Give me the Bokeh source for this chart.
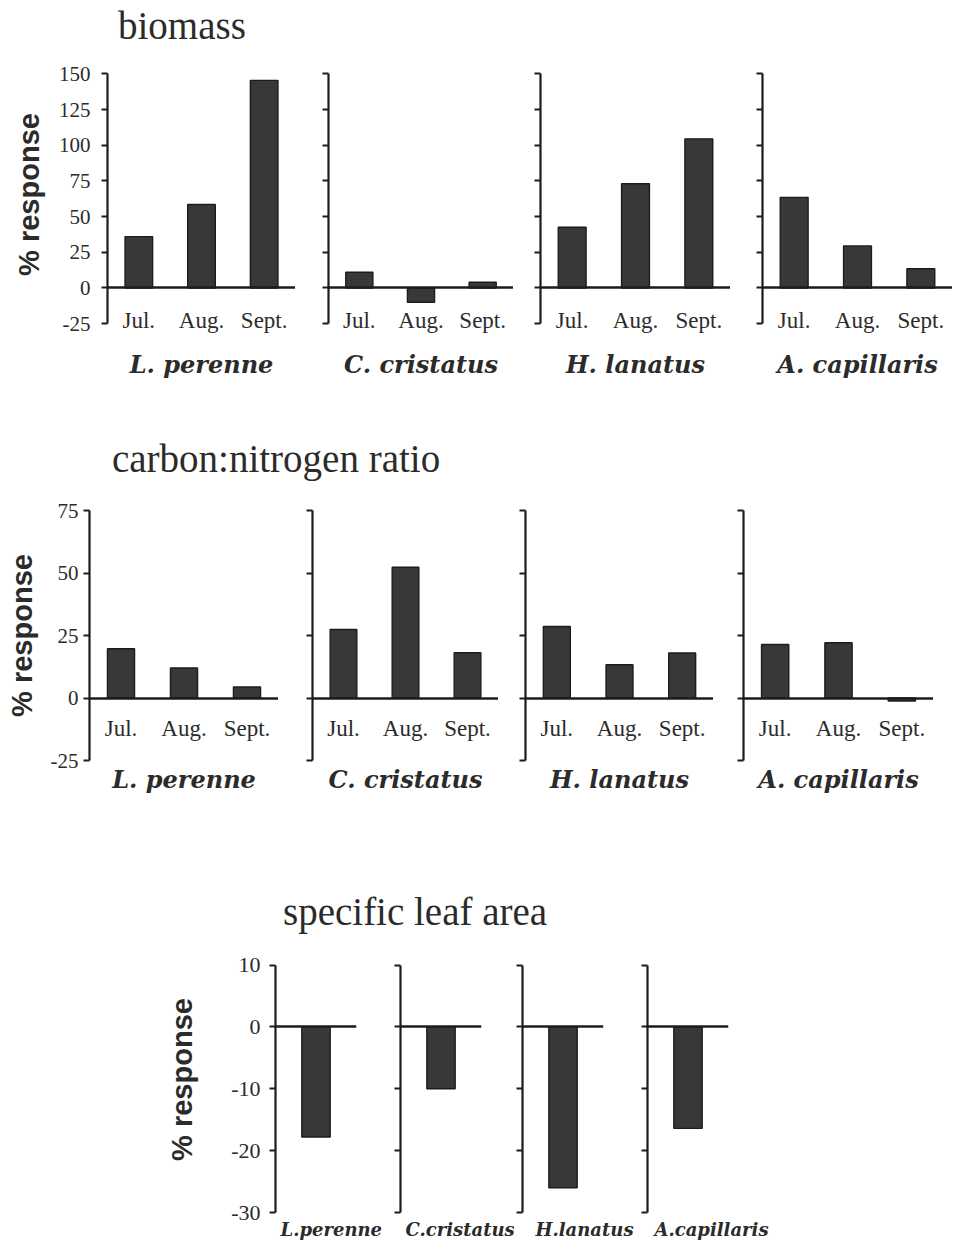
from bokeh.plotting import figure
from bokeh.models import (FactorRange, Range1d, FixedTicker, Div, CategoricalAxis,
                          LinearAxis, PrintfTickFormatter, Title)
from bokeh.layouts import column, row
from bokeh.embed import file_html
from bokeh.resources import INLINE

# ---------------- data ----------------
months = ["Jul.", "Aug.", "Sept."]
species_long = ["L. perenne", "C. cristatus", "H. lanatus", "A. capillaris"]
species_short = ["L.perenne", "C.cristatus", "H.lanatus", "A.capillaris"]

biomass_l_perenne = [36, 58.5, 145.5]
biomass_c_cristatus = [11, -10, 4]
biomass_h_lanatus = [42.5, 73, 104.5]
biomass_a_capillaris = [63.5, 29.5, 13.5]

cn_l_perenne = [19.7, 12, 4.4]
cn_c_cristatus = [27.4, 52.3, 18.1]
cn_h_lanatus = [28.6, 13.3, 18]
cn_a_capillaris = [21.4, 22.1, -1.2]

sla_response = [-17.8, -10, -26, -16.4]

biomass_ticks = [-25, 0, 25, 50, 75, 100, 125, 150]
cn_ticks = [-25, 0, 25, 50, 75]
sla_ticks = [-30, -20, -10, 0, 10]

titles = ["biomass", "carbon:nitrogen ratio", "specific leaf area"]
y_label = "% response"

# ---------------- style ----------------
TEXT = "#2b2b2b"
LINE = "#1c1c1c"
BAR = "#383838"
SERIF = "Liberation Serif"
SPECIES_FONT = "DejaVu Serif"


def panel(factors, values, species, y_rng, axis_bounds, ticks, frame_w, frame_h, borders,
          cfg, first=False, month_axis=True, species_offset=None):
    left, right, top, bottom = borders
    p = figure(x_range=FactorRange(factors=factors), y_range=Range1d(*y_rng),
               frame_width=frame_w, frame_height=frame_h,
               min_border_left=left, min_border_right=right,
               min_border_top=top, min_border_bottom=bottom,
               x_axis_location=None, y_axis_location="left",
               toolbar_location=None, output_backend="svg",
               background_fill_color="white", border_fill_color="white")
    p.outline_line_color = None
    p.grid.grid_line_color = None

    p.vbar(x=factors, top=values, bottom=0, width=cfg["bar_w"],
           fill_color=BAR, line_color=LINE, line_width=1.4)

    ya = p.yaxis[0]
    ya.ticker = FixedTicker(ticks=ticks)
    ya.bounds = axis_bounds
    ya.axis_line_color = LINE
    ya.axis_line_width = 2.2
    ya.major_tick_line_color = LINE
    ya.major_tick_line_width = 2
    ya.major_tick_out = 6
    ya.major_tick_in = 0
    ya.minor_tick_line_color = None
    if first:
        ya.formatter = PrintfTickFormatter(format="%d")
        ya.major_label_text_font = SERIF
        ya.major_label_text_font_size = cfg["tick_size"]
        ya.major_label_text_color = TEXT
        ya.major_label_standoff = cfg["tick_standoff"]
        ya.axis_label = y_label
        ya.axis_label_text_font = "Liberation Sans"
        ya.axis_label_text_font_style = "bold"
        ya.axis_label_text_font_size = cfg["ylabel_size"]
        ya.axis_label_text_color = TEXT
        ya.axis_label_standoff = cfg["ylabel_standoff"]
    else:
        ya.major_label_overrides = {float(t): "" for t in ticks}
        ya.major_label_standoff = 0

    # zero line (axis fixed at y = 0) carrying the month labels
    if month_axis:
        xa = CategoricalAxis(fixed_location=0)
        xa.major_label_text_font = SERIF
        xa.major_label_text_font_size = cfg["month_size"]
        xa.major_label_text_color = TEXT
        xa.major_label_standoff = cfg["month_standoff"]
    else:
        xa = LinearAxis(fixed_location=0, ticker=FixedTicker(ticks=[]))
    xa.axis_line_color = LINE
    xa.axis_line_width = 2.5
    xa.major_tick_line_color = None
    xa.minor_tick_line_color = None
    xa.major_tick_out = 0
    xa.major_tick_in = 0
    p.add_layout(xa, "below")

    # species name below the panel
    if species_offset is None:
        xb = LinearAxis(ticker=FixedTicker(ticks=[]))
        xb.axis_line_color = None
        xb.major_tick_line_color = None
        xb.minor_tick_line_color = None
        xb.major_tick_out = 0
        xb.major_tick_in = 0
        xb.major_label_standoff = 0
        xb.axis_label = species
        xb.axis_label_text_font = SPECIES_FONT
        xb.axis_label_text_font_style = "bold italic"
        xb.axis_label_text_font_size = cfg["species_size"]
        xb.axis_label_text_color = TEXT
        xb.axis_label_standoff = cfg["species_standoff"]
        p.add_layout(xb, "below")
    else:
        t = Title(text=species, align="left", offset=species_offset, vertical_align="top",
                  standoff=cfg["species_standoff"], text_font=SPECIES_FONT,
                  text_font_style="bold italic", text_font_size=cfg["species_size"],
                  text_color=TEXT)
        p.add_layout(t, "below")
    return p


def title_div(text, pad_left, pad_top, height):
    html = ('<div style="font-family:\'Liberation Serif\',serif;font-size:39px;line-height:44px;'
            f'padding-left:{pad_left}px;padding-top:{pad_top}px;white-space:nowrap;color:{TEXT};">'
            f'{text}</div>')
    return Div(text=html, width=940, height=height, margin=0)


# ---------------- biomass ----------------
bio_cfg = dict(bar_w=0.44, tick_size="21px", tick_standoff=11, ylabel_size="29px",
               ylabel_standoff=11, month_size="23px", month_standoff=20,
               species_size="24px", species_standoff=13)
bio_vals = [biomass_l_perenne, biomass_c_cristatus, biomass_h_lanatus, biomass_a_capillaris]
bio_frames = [188, 185, 190, 190]
bio_lefts = [107, 33, 27, 32]
bio_row = row([panel(months, v, s, (-34, 165), (-25, 150), biomass_ticks, fw, 284,
                     (l, 0, 2, 64), bio_cfg, first=(i == 0))
               for i, (v, s, fw, l) in enumerate(zip(bio_vals, species_long, bio_frames, bio_lefts))],
              spacing=0)

# ---------------- carbon:nitrogen ----------------
cn_cfg = dict(bar_w=0.43, tick_size="21px", tick_standoff=5, ylabel_size="29px",
              ylabel_standoff=10, month_size="23px", month_standoff=18,
              species_size="24px", species_standoff=4)
cn_vals = [cn_l_perenne, cn_c_cristatus, cn_h_lanatus, cn_a_capillaris]
cn_frames = [189, 186, 188, 190]
cn_lefts = [89, 34, 27, 30]
cn_row = row([panel(months, v, s, (-25, 75), (-25, 75), cn_ticks, fw, 250, (l, 0, 10, 90), cn_cfg,
                    first=(i == 0))
              for i, (v, s, fw, l) in enumerate(zip(cn_vals, species_long, cn_frames, cn_lefts))],
             spacing=0)

# ---------------- specific leaf area ----------------
sla_cfg = dict(bar_w=0.35, tick_size="22px", tick_standoff=9, ylabel_size="29px",
               ylabel_standoff=30, species_size="18px", species_standoff=12)
sla_borders = [(275, 36, 1, 35), (8, 33, 1, 35), (8, 36, 1, 35), (8, 150, 1, 35)]
sla_offsets = [5, 5, 13, 7]
sla_row = row([panel([s], [v], s, (-30, 13), (-30, 10), sla_ticks, 81, 266, b, sla_cfg,
                     first=(i == 0), month_axis=False, species_offset=o)
               for i, (v, s, b, o) in enumerate(zip(sla_response, species_short, sla_borders,
                                                    sla_offsets))],
              spacing=0)

layout = column([
    title_div(titles[0], 118, 4, 50),
    bio_row,
    title_div(titles[1], 112, 37, 100),
    cn_row,
    title_div(titles[2], 283, 40, 95),
    sla_row,
], spacing=0)

open("out.html", "w").write(file_html(layout, INLINE))
